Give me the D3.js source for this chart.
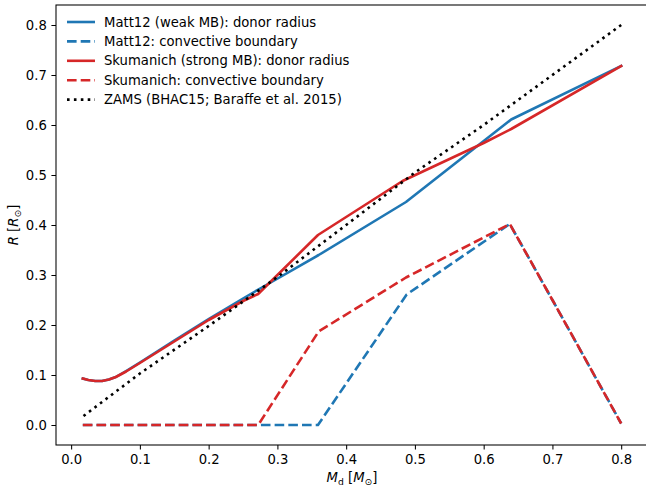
<!DOCTYPE html>
<html>
<head>
<meta charset="utf-8">
<script src="https://cdn.jsdelivr.net/npm/d3@7"></script>
<style>
body { margin: 0; background: #fff; }
text { font-family: "DejaVu Sans", sans-serif; fill: #000; }
</style>
</head>
<body>
<div id="chart"></div>
<script>
// 読み取った値 (M_d [Msun], R [Rsun])
var mattRadius = [
	[0.017, 0.093], [0.025, 0.090], [0.035, 0.088], [0.045, 0.088], [0.055, 0.091],
	[0.065, 0.096], [0.08, 0.108], [0.1, 0.125], [0.15, 0.169], [0.2, 0.212],
	[0.25, 0.253], [0.28, 0.277], [0.36, 0.34], [0.487, 0.446], [0.64, 0.611], [0.8, 0.718]
];
var mattConv = [
	[0.017, 0.0], [0.1, 0.0], [0.2, 0.0], [0.3, 0.0], [0.359, 0.0],
	[0.488, 0.261], [0.638, 0.402], [0.7, 0.25], [0.8, 0.003]
];
var skumRadius = [
	[0.017, 0.093], [0.025, 0.090], [0.035, 0.088], [0.045, 0.088], [0.055, 0.091],
	[0.065, 0.096], [0.08, 0.107], [0.1, 0.124], [0.15, 0.167], [0.2, 0.21],
	[0.25, 0.248], [0.272, 0.262], [0.359, 0.38], [0.482, 0.488], [0.6, 0.564],
	[0.64, 0.592], [0.8, 0.718]
];
var skumConv = [
	[0.017, 0.0], [0.1, 0.0], [0.2, 0.0], [0.272, 0.0], [0.36, 0.187],
	[0.487, 0.295], [0.638, 0.402], [0.7, 0.25], [0.8, 0.003]
];
var zams = [
	[0.018, 0.018], [0.1, 0.103], [0.2, 0.198], [0.3, 0.296], [0.4, 0.40],
	[0.5, 0.505], [0.6, 0.60], [0.7, 0.70], [0.8, 0.80]
];
var xTicks = [0.0, 0.1, 0.2, 0.3, 0.4, 0.5, 0.6, 0.7, 0.8];
var yTicks = [0.0, 0.1, 0.2, 0.3, 0.4, 0.5, 0.6, 0.7, 0.8];

var series = [
	{ label: "Matt12 (weak MB): donor radius", data: mattRadius, color: "#1f77b4", dash: null },
	{ label: "Matt12: convective boundary", data: mattConv, color: "#1f77b4", dash: "9.6,4.1" },
	{ label: "Skumanich (strong MB): donor radius", data: skumRadius, color: "#d62728", dash: null },
	{ label: "Skumanich: convective boundary", data: skumConv, color: "#d62728", dash: "9.6,4.1" },
	{ label: "ZAMS (BHAC15; Baraffe et al. 2015)", data: zams, color: "#000000", dash: "2.6,4.3" }
];

var W = 646, H = 492;
var fs = 13.2;
var lw = 2.6;
var svg = d3.select("#chart").append("svg")
	.attr("width", W)
	.attr("height", H);

// スケール
var x = d3.scaleLinear().domain([-0.022, 0.839]).range([56, 648]);
var y = d3.scaleLinear().domain([-0.04, 0.84]).range([445, 5]);

// 軸
var xAxis = d3.axisBottom(x).tickValues(xTicks).tickFormat(d3.format(".1f"))
	.tickSizeInner(4.6).tickSizeOuter(0).tickPadding(4.6);
var yAxis = d3.axisLeft(y).tickValues(yTicks).tickFormat(d3.format(".1f"))
	.tickSizeInner(4.6).tickSizeOuter(0).tickPadding(4.6);

var gx = svg.append("g").attr("transform", "translate(0," + y.range()[0] + ")").call(xAxis);
var gy = svg.append("g").attr("transform", "translate(" + x.range()[0] + ",0)").call(yAxis);
[gx, gy].forEach(function(g){
	g.select(".domain").remove();
	g.selectAll(".tick line").attr("stroke", "#000").attr("stroke-width", 1.05);
	g.selectAll(".tick text").attr("font-size", fs).attr("fill", "#000")
		.attr("font-family", "DejaVu Sans");
});

// 線
var line = d3.line()
	.x(function(d){ return x(d[0]); })
	.y(function(d){ return y(d[1]); });

svg.append("defs").append("clipPath").attr("id", "clip")
	.append("rect")
	.attr("x", x.range()[0]).attr("y", y.range()[1])
	.attr("width", x.range()[1] - x.range()[0])
	.attr("height", y.range()[0] - y.range()[1]);

var plot = svg.append("g").attr("clip-path", "url(#clip)");
series.forEach(function(s){
	plot.append("path")
		.datum(s.data)
		.attr("fill", "none")
		.attr("stroke", s.color)
		.attr("stroke-width", lw)
		.attr("stroke-linejoin", "round")
		.attr("stroke-linecap", s.dash ? "butt" : "square")
		.attr("stroke-dasharray", s.dash)
		.attr("d", line);
});

// 枠線
svg.append("rect")
	.attr("x", x.range()[0]).attr("y", y.range()[1])
	.attr("width", x.range()[1] - x.range()[0])
	.attr("height", y.range()[0] - y.range()[1])
	.attr("fill", "none")
	.attr("stroke", "#000")
	.attr("stroke-width", 1.05);

// 凡例 (枠なし)
var legend = svg.append("g");
series.forEach(function(s, i){
	var ly = 22 + i * 19.4;
	legend.append("line")
		.attr("x1", 67).attr("x2", 95)
		.attr("y1", ly).attr("y2", ly)
		.attr("stroke", s.color)
		.attr("stroke-width", lw)
		.attr("stroke-dasharray", s.dash);
	legend.append("text")
		.attr("x", 104).attr("y", ly)
		.attr("dy", "0.35em")
		.attr("font-size", fs)
		.text(s.label);
});

// 軸ラベル
var xl = svg.append("text")
	.attr("x", 352).attr("y", 482)
	.attr("text-anchor", "middle")
	.attr("font-size", fs);
xl.append("tspan").attr("font-style", "italic").text("M");
xl.append("tspan").attr("font-size", fs * 0.7).attr("dy", 2.5).text("d");
xl.append("tspan").attr("dy", -2.5).text(" [");
xl.append("tspan").attr("font-style", "italic").text("M");
xl.append("tspan").attr("font-size", fs * 0.7).attr("dy", 2.5).text("\u2299");
xl.append("tspan").attr("dy", -2.5).text("]");

var yl = svg.append("text")
	.attr("transform", "translate(18,225) rotate(-90)")
	.attr("text-anchor", "middle")
	.attr("font-size", fs);
yl.append("tspan").attr("font-style", "italic").text("R");
yl.append("tspan").text(" [");
yl.append("tspan").attr("font-style", "italic").text("R");
yl.append("tspan").attr("font-size", fs * 0.7).attr("dy", 2.5).text("\u2299");
yl.append("tspan").attr("dy", -2.5).text("]");
</script>
</body>
</html>
